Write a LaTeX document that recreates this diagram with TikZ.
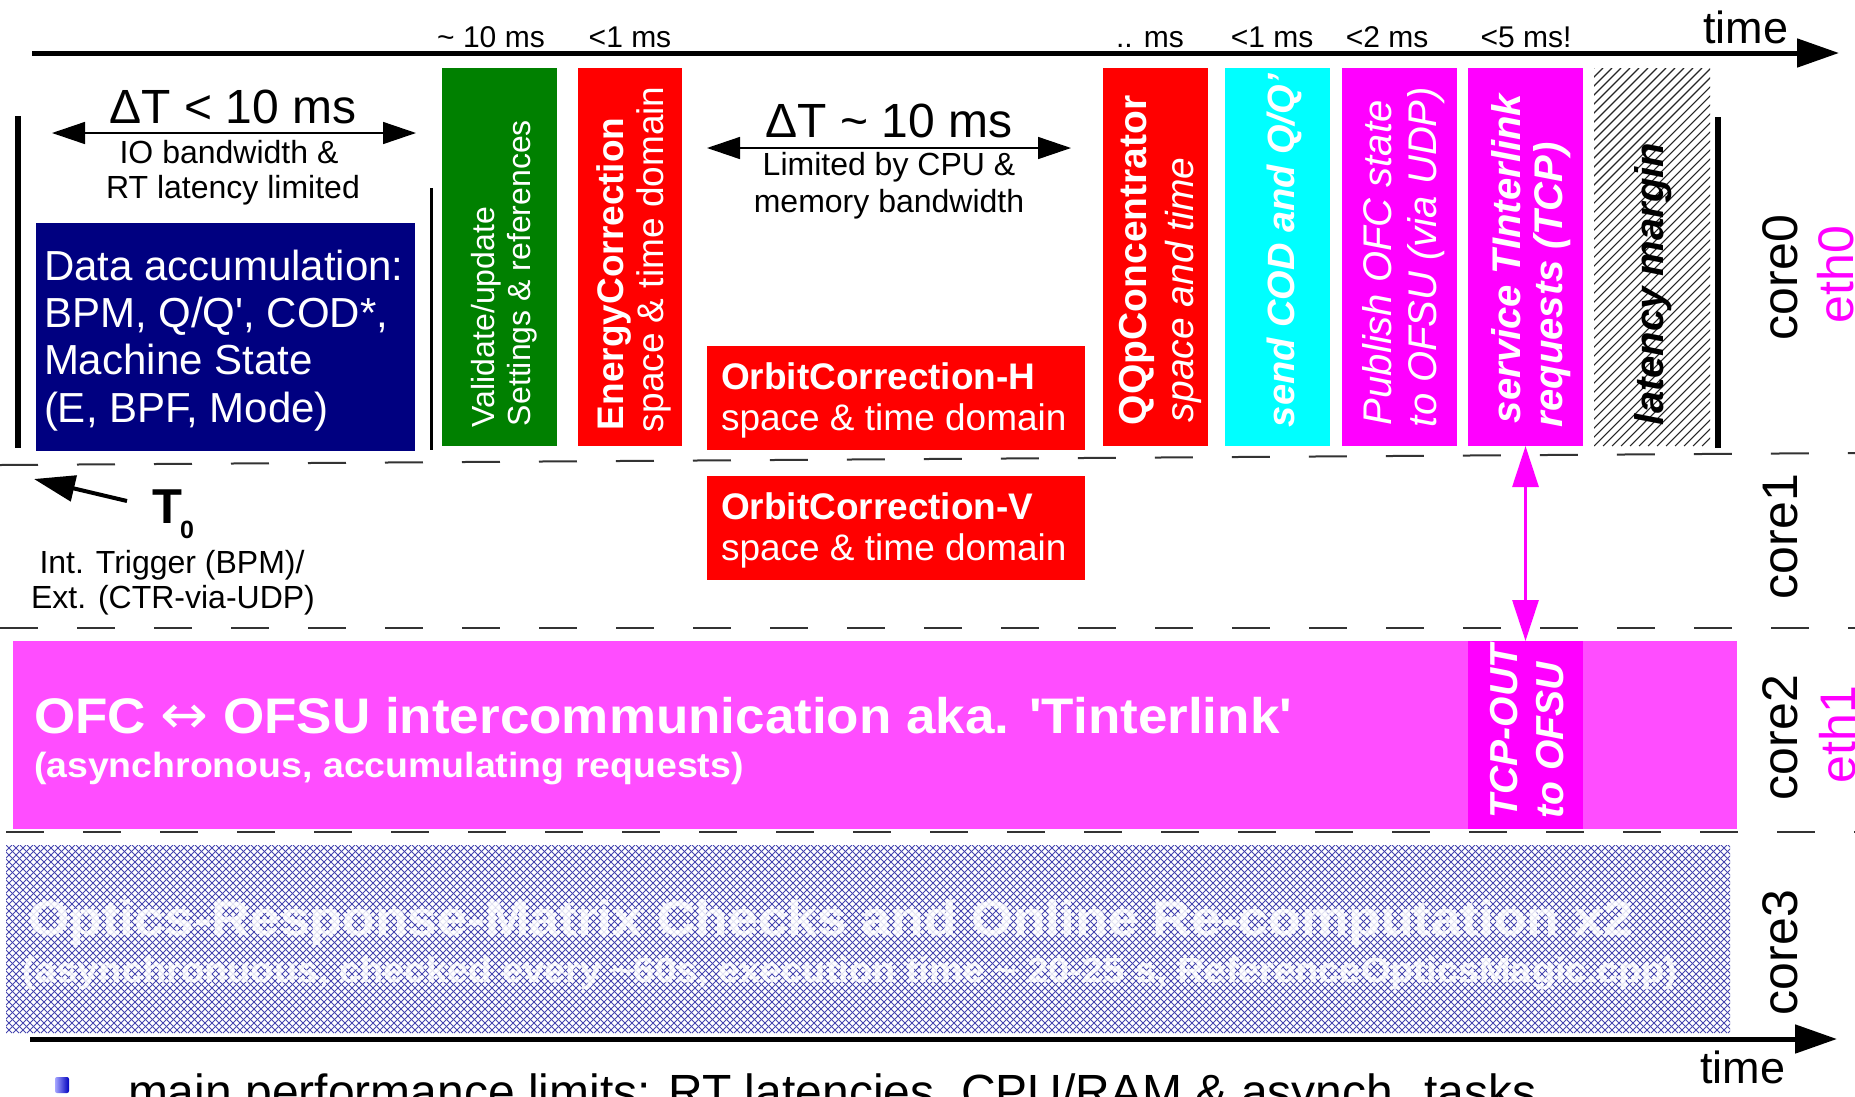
\documentclass[tikz,border=0pt]{standalone}
\usepackage{fontspec}
\usepackage{graphicx}
\setmainfont{Liberation Sans}
\newfontfamily\djv{DejaVu Sans}
\usetikzlibrary{arrows.meta}
\definecolor{navyc}{RGB}{0,0,128}
\definecolor{greenc}{RGB}{0,128,0}
\definecolor{redc}{RGB}{255,0,0}
\definecolor{cyanc}{RGB}{0,255,255}
\definecolor{magc}{RGB}{255,0,255}
\definecolor{pinkc}{RGB}{255,77,255}
\definecolor{hatchc}{RGB}{70,70,175}
\newcommand{\fsz}[1]{\fontsize{#1}{#1}\selectfont}
\newcommand{\sqt}{{\XeTeXglyph\XeTeXcharglyph"27\relax}}
\begin{document}
\begin{tikzpicture}[x=1pt,y=-1pt,
  boxs/.style={rectangle,inner sep=0pt,outer sep=0pt,draw=none,anchor=north west},
  lbl/.style={inner sep=0pt,outer sep=0pt,anchor=base},
  lblw/.style={inner sep=0pt,outer sep=0pt,anchor=base west},
  vlbl/.style={inner sep=0pt,outer sep=0pt,rotate=90,anchor=base west},
  dashln/.style={draw=black!80,line width=2pt,dash pattern=on 38pt off 39pt},
  axisln/.style={line width=5pt,-{Triangle[length=42pt,width=28pt]}},
  dtarrow/.style={line width=1.5pt,{Triangle[length=33pt,width=22pt]}-{Triangle[length=33pt,width=22pt]}},
  wt/.style={text=white},
]
\useasboundingbox (0,0) rectangle (1855,1096);
\clip (0,0) rectangle (1855,1096);
\fill[white] (0,0) rectangle (1855,1096);

% core separators
\draw[dashln] (0,465) -- (1855,453);
\draw[dashln] (0,628) -- (1855,628);
\draw[dashln] (6,832) -- (1855,832);

% top time axis
\coordinate (ta0) at (32,53);
\coordinate (ta1) at (1839,53);
\draw[axisln] (ta0) -- (ta1);
\node[lblw,font=\fsz{45}] (timetop) at (1703,43) {time};

% duration labels
\node[lbl,font=\fsz{30}] (d1) at (491,47) {\textasciitilde{} 10 ms};
\node[lbl,font=\fsz{30}] (d2) at (630,47) {<1 ms};
\node[lbl,font=\fsz{30}] (d3) at (1150,47) {.. ms};
\node[lbl,font=\fsz{30}] (d4) at (1272,47) {<1 ms};
\node[lbl,font=\fsz{30}] (d5) at (1387,47) {<2 ms};
\node[lbl,font=\fsz{30}] (d6) at (1526,47) {<5 ms!};

% vertical bars
\draw[line width=6pt] (18,116) -- (18,448);
\draw[line width=3pt] (431,188) -- (431,450);
\draw[line width=6pt] (1718,117) -- (1718,448);

% Delta T < 10 ms
\coordinate (dtl1) at (52,133);
\coordinate (dtr1) at (416,133);
\draw[dtarrow] (dtl1) -- (dtr1);
\node[lbl,font=\fsz{48}] (dt1) at (233,123) {ΔT < 10 ms};
\node[lbl,font=\fsz{32}] (io1) at (229,163) {IO bandwidth \&};
\node[lbl,font=\fsz{32}] (io2) at (233,198) {RT latency limited};

% Delta T ~ 10 ms
\coordinate (dtl2) at (707,148);
\coordinate (dtr2) at (1071,148);
\draw[dtarrow] (dtl2) -- (dtr2);
\node[lbl,font=\fsz{48}] (dt2) at (889,137) {ΔT \textasciitilde{} 10 ms};
\node[lbl,font=\fsz{32}] (cpu1) at (889,175) {Limited by CPU \&};
\node[lbl,font=\fsz{32}] (cpu2) at (889,212) {memory bandwidth};

% boxes core0
\node[boxs,fill=navyc,minimum width=379pt,minimum height=228pt] (blue) at (36,223) {};
\node[boxs,fill=greenc,minimum width=115pt,minimum height=378pt] (green) at (442,68) {};
\node[boxs,fill=redc,minimum width=104pt,minimum height=378pt] (energy) at (578,68) {};
\node[boxs,fill=redc,minimum width=378pt,minimum height=104pt] (orbh) at (707,346) {};
\node[boxs,fill=redc,minimum width=105pt,minimum height=378pt] (qqp) at (1103,68) {};
\node[boxs,fill=cyanc,minimum width=105pt,minimum height=378pt] (cyanb) at (1225,68) {};
\node[boxs,fill=magc,minimum width=115pt,minimum height=378pt] (publish) at (1342,68) {};
\node[boxs,fill=magc,minimum width=115pt,minimum height=378pt] (service) at (1468,68) {};
\node[boxs,minimum width=116pt,minimum height=378pt] (latency) at (1594,68) {};
\begin{scope}
  \clip (1594,68) rectangle (1710,446);
  \foreach \i in {1216,1225,...,1710} \draw[black!85,line width=1.1pt] (\i,446) -- (\i+378,68);
\end{scope}
% core1 box
\node[boxs,fill=redc,minimum width=378pt,minimum height=104pt] (orbv) at (707,476) {};

% box texts
\node[lblw,font=\fsz{42},wt] (bt1) at (44,280) {Data accumulation:};
\node[lblw,font=\fsz{42},wt] (bt2) at (44,327) {BPM, Q/Q\sqt, COD*,};
\node[lblw,font=\fsz{42},wt] (bt3) at (44,374) {Machine State};
\node[lblw,font=\fsz{42},wt] (bt4) at (44,422) {(E, BPF, Mode)};

\node[vlbl,font=\fsz{32},wt] (g1) at (494,427) {Validate/update};
\node[vlbl,font=\fsz{32},wt] (g2) at (530,426) {Settings \& references};

\node[vlbl,font=\bfseries\fsz{37},wt] (e1) at (623,430) {EnergyCorrection};
\node[vlbl,font=\fsz{37},wt] (e2) at (663,432) {space \& time domain};

\node[lblw,font=\bfseries\fsz{37},wt] (oh1) at (721,389) {OrbitCorrection-H};
\node[lblw,font=\fsz{37},wt] (oh2) at (721,430) {space \& time domain};
\node[lblw,font=\bfseries\fsz{37},wt] (ov1) at (721,519) {OrbitCorrection-V};
\node[lblw,font=\fsz{37},wt] (ov2) at (721,560) {space \& time domain};

\node[vlbl,font=\bfseries\fsz{39},wt] (q1) at (1146,425) {QQpConcentrator};
\node[vlbl,font=\itshape\fsz{39},wt] (q2) at (1193,422) {space and time};

\node[vlbl,font=\bfseries\itshape\fsz{38},wt] (c1) at (1294,427) {send COD and Q/Q’};

\node[vlbl,font=\itshape\fsz{40},wt] (p1) at (1391,425) {Publish OFC state};
\node[vlbl,font=\itshape\fsz{40},wt] (p2) at (1436,427) {to OFSU (via UDP)};

\node[vlbl,font=\bfseries\itshape\fsz{40},wt] (s1) at (1520,423) {service TInterlink};
\node[vlbl,font=\bfseries\itshape\fsz{40},wt] (s2) at (1562,427) {requests (TCP)};

\node[vlbl,font=\bfseries\itshape\fsz{40}] (lm) at (1663,425) {latency margin};

% T0 trigger
\node[lblw,font=\bfseries\fsz{49}] (T0) at (152,523) {T};
\node[lblw,font=\bfseries\fsz{25}] (T0s) at (180,538) {0};
\coordinate (t0tail) at (127,501);
\coordinate (t0tip) at (34,479);
\draw[line width=4pt,-{Triangle[length=41pt,width=26pt]}] (t0tail) -- (t0tip);
\node[lbl,font=\fsz{32}] (tr1) at (172,573) {Int. Trigger (BPM)/};
\node[lbl,font=\fsz{32}] (tr2) at (173,608) {Ext. (CTR-via-UDP)};

% core2
\node[boxs,fill=pinkc,minimum width=1724pt,minimum height=188pt] (pink) at (13,641) {};
\node[boxs,fill=magc,minimum width=115pt,minimum height=188pt] (tcp) at (1468,641) {};
\node[lblw,font=\bfseries\fsz{50},wt] (ofc1) at (34,733) {\scalebox{1.06}[1]{OFC {\djv\mdseries\fsz{54}↔} OFSU intercommunication aka. \sqt Tinterlink\sqt}};
\node[lblw,font=\bfseries\fsz{35},wt] (ofc2) at (34,777) {\scalebox{1.07}[1]{(asynchronous, accumulating requests)}};
\node[vlbl,font=\bfseries\itshape\fsz{39},wt] (tc1) at (1517,818) {TCP-OUT};
\node[vlbl,font=\bfseries\itshape\fsz{39},wt] (tc2) at (1563,818) {to OFSU};

% link arrow
\draw[magc,line width=3pt,{Triangle[length=41pt,width=26pt]}-{Triangle[length=41pt,width=26pt]}] (service.south) -- (tcp.north);

% core3 crosshatch
\node[boxs,minimum width=1724pt,minimum height=188pt] (orm) at (6,845) {};
\begin{scope}
  \clip (6,845) rectangle (1730,1033);
  \foreach \i in {-190,-183,...,1730} {
    \draw[hatchc,line width=0.9pt] (\i,845) -- ++(188,188);
    \draw[hatchc,line width=0.9pt] (\i,1033) -- ++(188,-188);
  }
\end{scope}
\node[lblw,font=\bfseries\fsz{49},text=white,text opacity=0.85] (op1) at (28,935) {\scalebox{1.09}[1]{Optics-Response-Matrix Checks and Online Re-computation x2}};
\node[lblw,font=\bfseries\fsz{35},text=white,text opacity=0.85] (op2) at (23,982) {\scalebox{1.085}[1]{(asynchronuous, checked every \textasciitilde60s, execution time \textasciitilde{} 20-25 s, ReferenceOpticsMagic.cpp)}};

% bottom time axis
\coordinate (tb0) at (30,1039);
\coordinate (tb1) at (1837,1039);
\draw[axisln] (tb0) -- (tb1);
\node[lblw,font=\fsz{45}] (timebot) at (1700,1083) {time};

% core / eth labels
\node[vlbl,font=\fsz{50}] (core0) at (1797,340) {core0};
\node[vlbl,font=\fsz{50}] (core1) at (1797,599) {core1};
\node[vlbl,font=\fsz{50}] (core2) at (1797,800) {core2};
\node[vlbl,font=\fsz{50}] (core3) at (1797,1015) {core3};
\node[vlbl,font=\fsz{50},text=magc] (eth0) at (1853,323) {eth0};
\node[vlbl,font=\fsz{50},text=magc] (eth1) at (1855,783) {eth1};

% bullet line
\shade[left color=blue!35!white,right color=blue!75!black,rounded corners=2pt] (55,1077) rectangle (69,1093);
\node[lblw,font=\fsz{48}] (perf) at (128,1108) {main performance limits: RT latencies, CPU/RAM \& asynch. tasks};
\end{tikzpicture}
\end{document}
